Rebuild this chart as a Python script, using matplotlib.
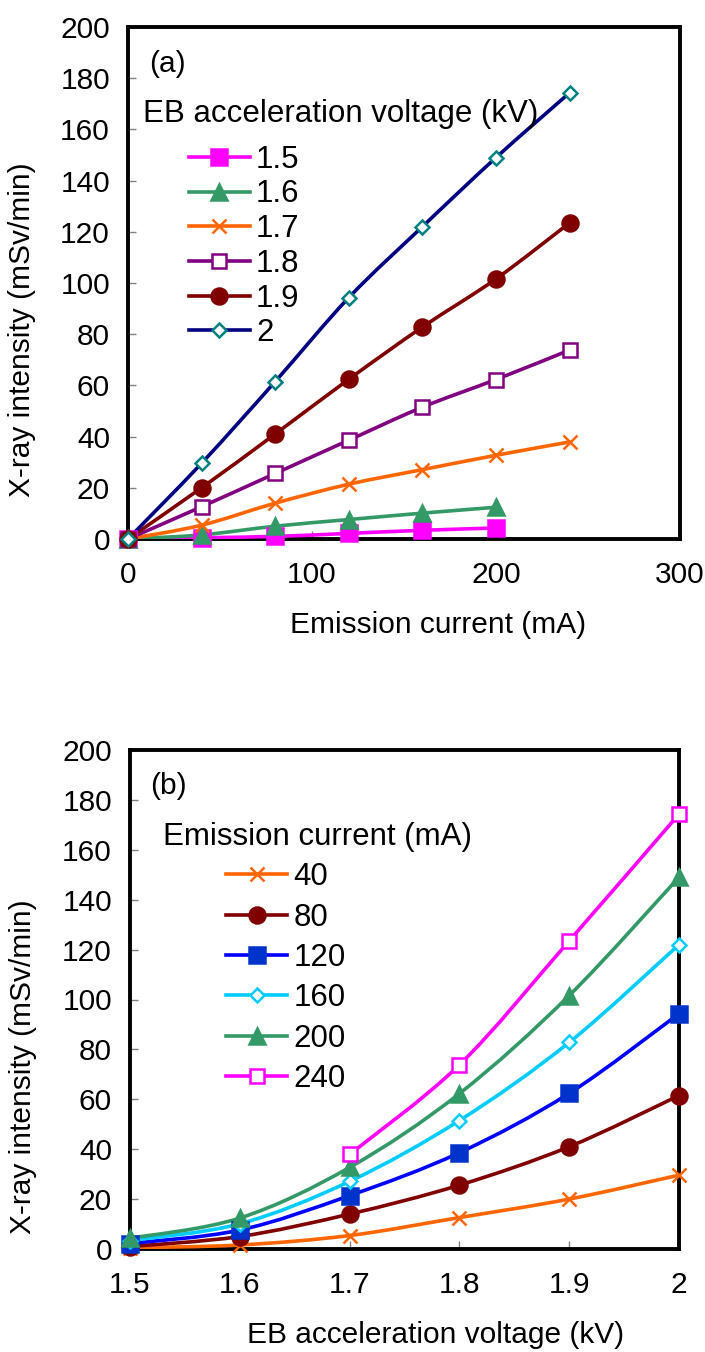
import matplotlib
matplotlib.use("Agg")
import matplotlib.pyplot as plt
from matplotlib.path import Path
from matplotlib.patches import PathPatch
from matplotlib.lines import Line2D
from matplotlib.ticker import FuncFormatter

plt.rcParams['font.family'] = ['Liberation Sans', 'DejaVu Sans']

# emission current (mA) and EB acceleration voltage (kV)
current_ma = [0, 40, 80, 120, 160, 200, 240]
voltage_kv = [1.5, 1.6, 1.7, 1.8, 1.9, 2.0]
voltage_labels = ["1.5", "1.6", "1.7", "1.8", "1.9", "2"]
current_labels = ["40", "80", "120", "160", "200", "240"]

# X-ray intensity (mSv/min) per acceleration voltage, vs emission current
intensity_15 = [0, 0.5, 1.0, 2.2, 3.4, 4.3]
intensity_16 = [0, 1.6, 5.0, 7.6, 10.1, 12.4]
intensity_17 = [0, 5.4, 14.0, 21.4, 27.1, 32.7, 37.9]
intensity_18 = [0, 12.6, 25.6, 38.6, 51.5, 62.3, 73.8]
intensity_19 = [0, 20.0, 41.0, 62.4, 82.8, 101.6, 123.5]
intensity_20 = [0, 29.6, 61.5, 94.3, 122.0, 149.0, 174.3]
by_voltage = [intensity_15, intensity_16, intensity_17, intensity_18, intensity_19, intensity_20]

FS = 21.5
LFS = 22.5
LW = 2.6

# line color, marker, marker face, marker edge, size
style_a = [
    ("#FF00FF", "s", "#FF00FF", "#FF00FF", 11),
    ("#339966", "^", "#339966", "#339966", 11.5),
    ("#FF6600", "x", "#FF6600", "#FF6600", 10),
    ("#800080", "s", "white", "#800080", 10.5),
    ("#800000", "o", "#800000", "#800000", 11.5),
    ("#000080", "D", "white", "#008080", 7.5),
]
style_b = [
    ("#FF6600", "x", "#FF6600", "#FF6600", 10),
    ("#800000", "o", "#800000", "#800000", 11.5),
    ("#0000FF", "s", "#0033CC", "#0033CC", 11),
    ("#00CCFF", "D", "white", "#00CCFF", 7.5),
    ("#339966", "^", "#339966", "#339966", 11.5),
    ("#FF00FF", "s", "white", "#FF00FF", 10.5),
]


def smooth_path(xs, ys):
    # excel-like smoothed line through the points (bezier segments)
    pts = list(zip(xs, ys))
    n = len(pts)
    verts = [pts[0]]
    codes = [Path.MOVETO]
    for i in range(n - 1):
        x0, y0 = pts[i - 1] if i > 0 else pts[i]
        x1, y1 = pts[i]
        x2, y2 = pts[i + 1]
        x3, y3 = pts[i + 2] if i + 2 < n else pts[i + 1]
        verts += [(x1 + (x2 - x0) / 6, y1 + (y2 - y0) / 6),
                  (x2 - (x3 - x1) / 6, y2 - (y3 - y1) / 6),
                  (x2, y2)]
        codes += [Path.CURVE4] * 3
    return Path(verts, codes)


def draw_series(ax, xs, ys, st):
    lc, mk, mfc, mec, ms = st
    ax.add_patch(PathPatch(smooth_path(xs, ys), facecolor="none", edgecolor=lc,
                           lw=LW, capstyle="round", zorder=3))
    ax.plot(xs, ys, ls="none", marker=mk, mfc=mfc, mec=mec, ms=ms,
            mew=1.8, clip_on=False, zorder=4)
    return Line2D([], [], color=lc, lw=LW, marker=mk, mfc=mfc, mec=mec, ms=ms, mew=1.8)


def style_axes(ax):
    for s in ax.spines.values():
        s.set_linewidth(2.8)
        s.set_color("black")
    ax.tick_params(direction="in", length=6, width=1, color="#808080",
                   labelsize=FS, labelcolor="black", pad=13)
    ax.tick_params(axis="x", pad=16)
    ax.set_ylim(0, 200)
    ax.set_yticks(range(0, 201, 20))


fig = plt.figure(figsize=(7.05, 13.52), dpi=100)
W, H = 705, 1352

# ---- panel (a)
ax1 = fig.add_axes([128 / W, 1 - 539 / H, 552 / W, 512 / H])
handles = []
for ys, st in zip(by_voltage, style_a):
    handles.append(draw_series(ax1, current_ma[:len(ys)], ys, st))
style_axes(ax1)
ax1.set_xlim(0, 300)
ax1.set_xticks([0, 100, 200, 300])
ax1.set_xlabel("Emission current (mA)", fontsize=FS)
ax1.set_ylabel("X-ray intensity (mSv/min)", fontsize=FS)
ax1.xaxis.set_label_coords(0.562, -0.14)
ax1.yaxis.set_label_coords(-0.167, 0.408)
ax1.text(0.038, 0.928, "(a)", transform=ax1.transAxes, fontsize=FS, va="center")
ax1.text(0.027, 0.83, "EB acceleration voltage (kV)", transform=ax1.transAxes,
         fontsize=LFS, va="center")
ax1.legend(handles, voltage_labels, loc="upper left", bbox_to_anchor=(0.11, 0.77),
           frameon=False, fontsize=LFS, handlelength=1.95, handletextpad=0.2,
           labelspacing=0.15, borderpad=0, borderaxespad=0)

# ---- panel (b)
ax2 = fig.add_axes([130 / W, 1 - 1249 / H, 549 / W, 499 / H])
handles = []
for j, st in enumerate(style_b, start=1):
    xs = [v for v, ys in zip(voltage_kv, by_voltage) if len(ys) > j]
    ys = [ys[j] for ys in by_voltage if len(ys) > j]
    handles.append(draw_series(ax2, xs, ys, st))
style_axes(ax2)
ax2.set_xlim(1.5, 2.0)
ax2.set_xticks(voltage_kv)
ax2.xaxis.set_major_formatter(FuncFormatter(lambda v, p: f"{v:g}"))
ax2.set_xlabel("EB acceleration voltage (kV)", fontsize=FS)
ax2.set_ylabel("X-ray intensity (mSv/min)", fontsize=FS)
ax2.xaxis.set_label_coords(0.557, -0.144)
ax2.yaxis.set_label_coords(-0.17, 0.365)
ax2.text(0.036, 0.928, "(b)", transform=ax2.transAxes, fontsize=FS, va="center")
ax2.text(0.06, 0.826, "Emission current (mA)", transform=ax2.transAxes,
         fontsize=LFS, va="center")
ax2.legend(handles, current_labels, loc="upper left", bbox_to_anchor=(0.175, 0.775),
           frameon=False, fontsize=LFS, handlelength=1.95, handletextpad=0.2,
           labelspacing=0.33, borderpad=0, borderaxespad=0)

fig.savefig("out.png", dpi=100)
